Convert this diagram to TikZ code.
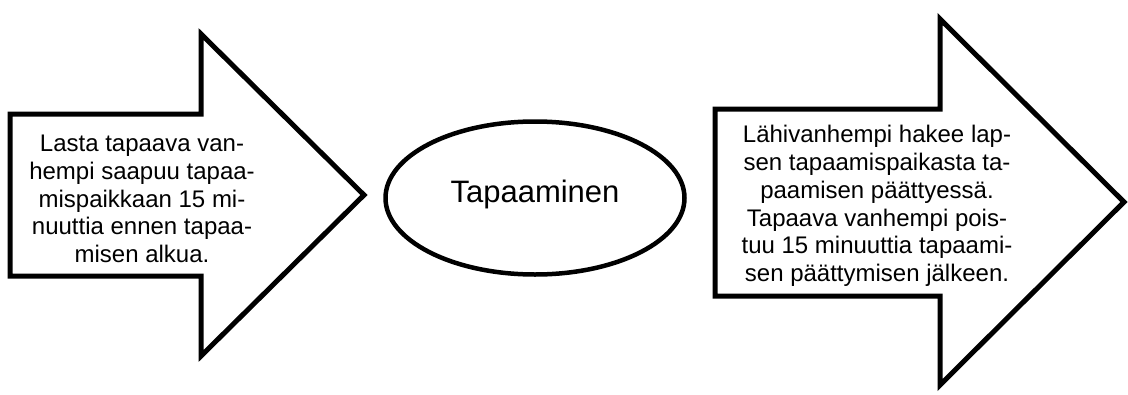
\documentclass[tikz,border=0pt]{standalone}
\usepackage{fontspec}
\setmainfont{Liberation Sans}
\usetikzlibrary{shapes.geometric}
\tikzset{
  bigarrow/.style={draw=black, line width=5pt, fill=white, miter limit=10},
  arrowtext/.style={align=center, inner sep=0pt, font=\fontsize{24}{27.7}\selectfont},
  oval/.style={ellipse, draw=black, line width=4.5pt, minimum width=299pt, minimum height=153pt, inner sep=0pt, font=\fontsize{31}{36}\selectfont}
}
\begin{document}
\begin{tikzpicture}[x=1pt,y=-1pt]
\useasboundingbox (0,0) rectangle (1128,394);
% left arrow
\draw[bigarrow] (10,114) -- (201,114) -- (201,34) -- (364,195) -- (201,356) -- (201,276) -- (10,276) -- cycle;
\node[arrowtext] (lefttext) at (142,199) {Lasta tapaava van-\\hempi saapuu tapaa-\\mispaikkaan 15 mi-\\nuuttia ennen tapaa-\\misen alkua.};
% ellipse
\node[oval] (meet) at (535,198) {};
\node[inner sep=0pt, font=\fontsize{31}{36}\selectfont] (meettext) at (535,194) {Tapaaminen};
% right arrow
\draw[bigarrow] (715,109) -- (940,109) -- (940,19) -- (1124,202) -- (940,385) -- (940,296) -- (715,296) -- cycle;
\node[arrowtext] (righttext) at (877,206) {Lähivanhempi hakee lap-\\sen tapaamispaikasta ta-\\paamisen päättyessä.\\Tapaava vanhempi pois-\\tuu 15 minuuttia tapaami-\\sen päättymisen jälkeen.};
\end{tikzpicture}
\end{document}
